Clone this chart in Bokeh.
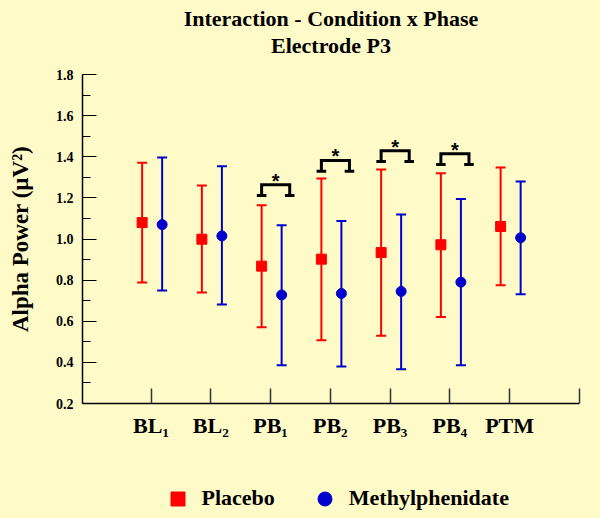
from bokeh.plotting import figure
from bokeh.layouts import column
from bokeh.models import (ColumnDataSource, Range1d, FixedTicker, NumeralTickFormatter,
                          Whisker, TeeHead, Legend, LegendItem, Label)
from bokeh.core.properties import value
from bokeh.embed import file_html
from bokeh.resources import INLINE

# ---- data ----
title_lines = ["Interaction - Condition x Phase", "Electrode P3"]
phases = ["BL\u2081", "BL\u2082", "PB\u2081", "PB\u2082", "PB\u2083", "PB\u2084", "PTM"]
placebo_mean = [1.080, 0.999, 0.868, 0.902, 0.934, 0.972, 1.061]
placebo_upper = [1.371, 1.260, 1.164, 1.294, 1.338, 1.320, 1.348]
placebo_lower = [0.788, 0.740, 0.571, 0.508, 0.529, 0.621, 0.775]
mph_mean = [1.070, 1.015, 0.728, 0.735, 0.745, 0.790, 1.006]
mph_upper = [1.396, 1.354, 1.067, 1.088, 1.119, 1.195, 1.280]
mph_lower = [0.749, 0.681, 0.386, 0.380, 0.367, 0.386, 0.731]
sig_phases = [3, 4, 5, 6]          # PB1..PB4 significant
sig_levels = [1.212, 1.330, 1.377, 1.362]
y_ticks = [0.2, 0.4, 0.6, 0.8, 1.0, 1.2, 1.4, 1.6, 1.8]
y_minor = [0.3, 0.5, 0.7, 0.9, 1.1, 1.3, 1.5, 1.7]
series_names = ["Placebo", "Methylphenidate"]

# ---- style ----
BG = "#FFFBC8"
FONT = "Liberation Serif"
RED = "#FF0000"
BLUE = "#0000CC"
OFF_P, OFF_M = -0.15, 0.185
X_START, X_END = -0.148, 8.17

pos = list(range(1, len(phases) + 1))


def strip(height):
    f = figure(width=584, height=height, x_range=Range1d(0, 1), y_range=Range1d(0, height),
               output_backend="svg", toolbar_location=None, title=None,
               x_axis_location=None, y_axis_location=None,
               background_fill_color=BG, border_fill_color=BG, min_border=0)
    f.outline_line_color = None
    f.grid.visible = False
    return f


# ---- title strip ----
p0 = strip(64)
for txt, yb in zip(title_lines, [45.8, 18.6]):
    p0.add_layout(Label(x=0.5, y=yb, text=txt, text_align="center",
                        text_baseline="alphabetic", text_font=FONT,
                        text_font_size="22px", text_font_style="bold",
                        text_color="black"))

# ---- main chart ----
p = figure(width=584, height=396, title=None,
           x_range=Range1d(X_START, X_END), y_range=Range1d(0.2, 1.8),
           output_backend="svg", toolbar_location=None,
           background_fill_color=BG, border_fill_color=BG,
           min_border_left=78, min_border_right=9,
           min_border_top=10, min_border_bottom=57)
p.outline_line_color = None
p.grid.visible = False

# x axis
xa = p.xaxis[0]
xa.ticker = FixedTicker(ticks=pos + [X_END])
ov = {float(i): lab for i, lab in zip(pos, phases)}
ov[X_END] = ""
xa.major_label_overrides = ov
xa.axis_line_color = "black"
xa.axis_line_width = 1.5
xa.major_tick_in = 15
xa.major_tick_out = 0
xa.major_tick_line_color = "#333333"
xa.major_tick_line_width = 1.5
xa.major_label_text_font = FONT
xa.major_label_text_font_size = "22px"
xa.major_label_text_font_style = "bold"
xa.major_label_text_color = "black"
xa.major_label_standoff = 9

# y axis
ya = p.yaxis[0]
ya.ticker = FixedTicker(ticks=y_ticks, minor_ticks=y_minor)
ya.formatter = NumeralTickFormatter(format="0.0")
ya.axis_line_color = "black"
ya.axis_line_width = 1.5
ya.major_tick_in = 14
ya.major_tick_out = 0
ya.minor_tick_in = 8
ya.minor_tick_out = 0
ya.major_tick_line_color = "black"
ya.minor_tick_line_color = "black"
ya.major_tick_line_width = 1.2
ya.minor_tick_line_width = 1.2
ya.major_label_text_font = FONT
ya.major_label_text_font_size = "14px"
ya.major_label_text_font_style = "bold"
ya.major_label_text_color = "black"
ya.major_label_standoff = 9
ya.axis_label = "Alpha Power (\u00b5V\u00b2)"
ya.axis_label_text_font = FONT
ya.axis_label_text_font_size = "23px"
ya.axis_label_text_font_style = "bold"
ya.axis_label_text_color = "black"
ya.axis_label_standoff = 20

# sources
src_p = ColumnDataSource(dict(x=[i + OFF_P for i in pos], mean=placebo_mean,
                              upper=placebo_upper, lower=placebo_lower))
src_m = ColumnDataSource(dict(x=[i + OFF_M for i in pos], mean=mph_mean,
                              upper=mph_upper, lower=mph_lower))

for src, col in [(src_p, RED), (src_m, BLUE)]:
    w = Whisker(base="x", upper="upper", lower="lower", source=src,
                line_color=col, line_width=2,
                upper_head=TeeHead(size=10, line_color=col, line_width=2),
                lower_head=TeeHead(size=10, line_color=col, line_width=2))
    p.add_layout(w)

p.scatter("x", "mean", source=src_p, marker="square", size=10,
          fill_color=RED, line_color=RED)
p.scatter("x", "mean", source=src_m, marker="circle", size=10,
          fill_color=BLUE, line_color=BLUE)

# significance brackets
BAR_H = 0.052
FOOT = 0.08
xs, ys, fx0, fx1, fy, ax, ay = [], [], [], [], [], [], []
for ph, lev in zip(sig_phases, sig_levels):
    xl, xr = ph + OFF_P, ph + OFF_P + 0.47
    top = lev + BAR_H
    xs.append([xl, xl, xr, xr])
    ys.append([lev, top, top, lev])
    for xx in (xl, xr):
        fx0.append(xx - FOOT)
        fx1.append(xx + FOOT)
        fy.append(lev)
    ax.append((xl + xr) / 2)
    ay.append(top)
p.multi_line(xs, ys, line_color="black", line_width=3, line_join="miter")
p.segment(x0=fx0, y0=fy, x1=fx1, y1=fy, line_color="black", line_width=3)
p.text(x=ax, y=ay, text=["*"] * len(ax), text_align="center",
       text_baseline="alphabetic", y_offset=-4, text_font=value("Liberation Sans"),
       text_font_size="20px", text_font_style="bold", text_color="black")

# ---- legend strip ----
p2 = strip(50)
d_p = p2.scatter(x=[-5], y=[-5], marker="square", size=10, fill_color=RED, line_color=RED)
d_m = p2.scatter(x=[-5], y=[-5], marker="circle", size=10, fill_color=BLUE, line_color=BLUE)
legend = Legend(items=[LegendItem(label=series_names[0], renderers=[d_p]),
                       LegendItem(label=series_names[1], renderers=[d_m])],
                orientation="horizontal", location=(77.5, -5.5),
                glyph_width=35, glyph_height=35, label_height=35,
                label_standoff=7, spacing=32, padding=0, margin=0,
                border_line_color=None, background_fill_alpha=0,
                label_text_font=FONT, label_text_font_size="22px",
                label_text_font_style="bold", label_text_color="black")
p2.add_layout(legend, "center")

layout = column(p0, p, p2, spacing=0)
html = file_html(layout, INLINE)
css = ("<style>html,body{background:%s;overflow:hidden;}"
       "body{margin:0 8px 0 4px;}</style></head>") % BG
html = html.replace("</head>", css, 1)
open("out.html", "w").write(html)
